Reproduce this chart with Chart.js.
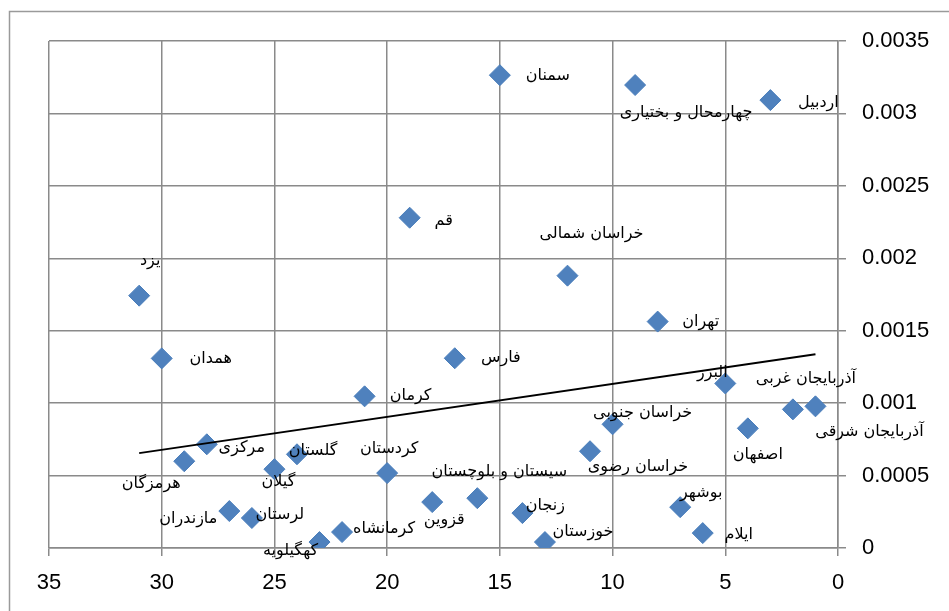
<!DOCTYPE html>
<html>
<head>
<meta charset="utf-8">
<script src="https://cdn.jsdelivr.net/npm/chart.js@4.4.1/dist/chart.umd.min.js"></script>
<style>
  html, body { margin: 0; padding: 0; background: #fff; }
  #wrap { width: 949px; height: 611px; }
</style>
</head>
<body>
<div id="wrap"><canvas id="myChart" width="949" height="611"></canvas></div>
<script>
// provinces, ranked 1..31 on the x axis
const provinces = ['آذربایجان شرقی', 'آذربایجان غربی', 'اردبیل', 'اصفهان', 'البرز', 'ایلام', 'بوشهر', 'تهران',
  'چهارمحال و بختیاری', 'خراسان جنوبی', 'خراسان رضوی', 'خراسان شمالی', 'خوزستان', 'زنجان', 'سمنان',
  'سیستان و بلوچستان', 'فارس', 'قزوین', 'قم', 'کردستان', 'کرمان', 'کرمانشاه', 'کهگیلویه', 'گلستان',
  'گیلان', 'لرستان', 'مازندران', 'مرکزی', 'هرمزگان', 'همدان', 'یزد'];
const ranks = [1, 2, 3, 4, 5, 6, 7, 8, 9, 10, 11, 12, 13, 14, 15, 16, 17, 18, 19, 20, 21, 22, 23, 24, 25, 26, 27, 28, 29, 30, 31];
const values = [0.000978, 0.000957, 0.003092, 0.000826, 0.001136, 0.000103, 0.000282, 0.001563,
  0.003196, 0.000854, 0.000668, 0.00188, 0.000041, 0.000241, 0.003264,
  0.000344, 0.00131, 0.000317, 0.00228, 0.000517, 0.001047, 0.00011, 0.000041, 0.000647,
  0.000544, 0.000207, 0.000255, 0.000716, 0.000599, 0.001309, 0.001742];
const trendX = [31, 1];
const trendY = [0.000655, 0.001337];
const xTicks = [0, 5, 10, 15, 20, 25, 30, 35];
const yTickLabels = ['0', '0.0005', '0.001', '0.0015', '0.002', '0.0025', '0.003', '0.0035'];

// label offsets from each marker (px)
const labelOffsets = [[54, 26], [13, -31], [48, 3], [10, 26], [-13, -11], [36, 2], [21, -14], [43, 0],
  [51, 28], [30, -11], [48, 16], [24, -42], [38, -10], [23, -7], [48, 1],
  [22, -26], [46, 0], [12, 18], [34, 3], [2, -24], [46, 0], [42, -3], [-29, 9], [16, -3],
  [4, 13], [28, -3], [-41, 8], [35, 4], [-33, 23], [49, 0], [11, -35]];

const gridColor = '#8a8a8a';

const frame = {
  id: 'frame',
  beforeDraw(chart) {
    const c = chart.ctx;
    c.save();
    c.strokeStyle = '#9a9a9a';
    c.lineWidth = 1.5;
    c.strokeRect(9.5, 11.5, 1200, 1200);
    c.restore();
  }
};

const pointLabels = {
  id: 'pointLabels',
  afterDatasetsDraw(chart) {
    const meta = chart.getDatasetMeta(1);
    const c = chart.ctx;
    c.save();
    c.font = '16px "DejaVu Sans", sans-serif';
    c.fillStyle = '#000';
    c.textAlign = 'center';
    c.textBaseline = 'middle';
    c.direction = 'rtl';
    meta.data.forEach((pt, i) => {
      const off = labelOffsets[i];
      c.fillText(provinces[i], pt.x + off[0], pt.y + off[1]);
    });
    c.restore();
  }
};

const ctx = document.getElementById('myChart').getContext('2d');
const chart = new Chart(ctx, {
  type: 'scatter',
  data: {
    datasets: [
      {
        data: trendX.map((x, i) => ({ x: x, y: trendY[i] })),
        showLine: true,
        borderColor: '#000',
        borderWidth: 2,
        pointRadius: 0,
        fill: false
      },
      {
        data: ranks.map((x, i) => ({ x: x, y: values[i] })),
        pointStyle: 'rectRot',
        pointRadius: 10.5,
        backgroundColor: '#4F81BD',
        borderColor: '#4A7EBB',
        borderWidth: 1
      }
    ]
  },
  options: {
    responsive: false,
    animation: false,
    layout: { padding: { left: 49, top: 41, right: 0, bottom: 0 } },
    plugins: { legend: { display: false }, tooltip: { enabled: false } },
    scales: {
      x: {
        type: 'linear',
        reverse: true,
        min: 0, max: 35,
        afterBuildTicks: (s) => { s.ticks = xTicks.map(v => ({ value: v })); },
        afterFit: (s) => { s.height = 63; },
        grid: { color: gridColor, lineWidth: 1.5, tickLength: 8, drawTicks: true },
        border: { display: true, color: gridColor, width: 1.5 },
        ticks: { color: '#000', padding: 14, maxRotation: 0, font: { family: 'Liberation Sans', size: 22 } }
      },
      y: {
        position: 'right',
        min: 0, max: 0.0035,
        afterBuildTicks: (s) => { s.ticks = yTickLabels.map((t, i) => ({ value: i * 0.0005 })); },
        afterFit: (s) => { s.width = 111; },
        grid: { color: gridColor, lineWidth: 1.5, tickLength: 8, drawTicks: true },
        border: { display: true, color: gridColor, width: 1.5 },
        ticks: {
          color: '#000', padding: 16,
          font: { family: 'Liberation Sans', size: 22 },
          callback: (v, i) => yTickLabels[i]
        }
      }
    }
  },
  plugins: [frame, pointLabels]
});
</script>
</body>
</html>
